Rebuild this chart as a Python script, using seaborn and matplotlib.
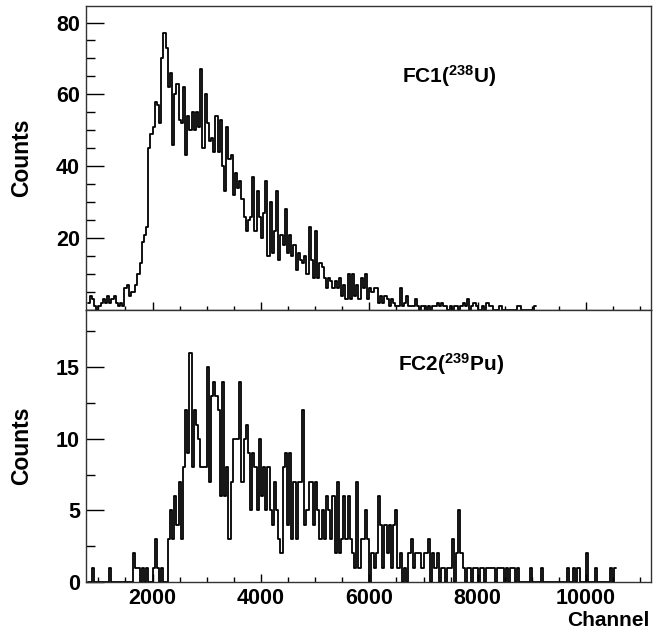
import numpy as np
import pandas as pd
import matplotlib
matplotlib.use("Agg")
import matplotlib.pyplot as plt
import seaborn as sns
from matplotlib.ticker import MultipleLocator, FixedLocator

# Histogram binning (channels)
BIN_START = 800
BIN_WIDTH = 40

# FC1 (238U) counts per bin
FC1_COUNTS = [
    2, 4, 3, 1, 0, 1, 2, 3, 2, 4, 2, 3, 4, 2, 1, 2, 1,
    6, 7, 4, 5, 5, 7, 10, 13, 19, 21, 23,
    45, 49, 51, 58, 57, 52, 70, 77, 73, 62, 66,
    46, 60, 63, 53, 52, 62, 43, 54, 50, 55, 50, 55, 51, 67, 45, 60, 52, 47, 48, 44,
    54, 44, 53, 40, 33, 51, 42,
    43, 32, 38, 34, 36, 31, 26, 22, 25, 26, 37, 22, 33, 26, 20, 27, 36, 15, 30, 16,
    22, 33, 14, 21, 18, 28, 16, 21, 15, 18, 11, 16, 14, 13, 15, 10, 23, 14, 9, 22,
    9, 13, 12, 9,
    6, 9, 8, 6, 8, 6, 9, 4, 7, 3, 10, 3, 10, 4, 7, 3, 9, 6, 10, 3, 6, 5, 6, 6,
    2, 4, 2, 4, 3, 1, 3, 2, 1, 1, 6, 1, 2, 4, 1, 1, 1, 3, 1, 0, 1, 1, 0, 1, 0,
    1, 1, 2, 1, 2, 1, 1, 0, 1, 0, 1, 1, 0,
    1, 2, 1, 3, 0, 1, 2, 1, 0, 0, 1, 0, 2, 1, 1, 0, 0, 0, 1,
    0, 0, 0, 0, 0, 0, 0, 1, 1, 0, 0, 0, 0, 0, 0, 1,
]

# FC2 (239Pu) counts per bin
FC2_COUNTS = [
    0, 0, 1, 0, 0, 0, 0, 0, 0, 0, 1, 0, 0, 0, 0, 0, 0, 0, 0, 0, 0, 2, 1, 1,
    0, 1, 0, 1, 0, 0, 1, 3, 1, 0, 1, 0, 0,
    3, 5, 3, 6, 4, 7, 3, 8, 12, 9, 16, 8, 12, 11, 10, 8, 8, 8, 15, 7, 13, 14, 13,
    12, 6, 14, 6, 8, 3, 7, 10,
    10, 10, 14, 7, 10, 11, 9, 5, 9, 8, 5, 10, 6, 8, 5, 8, 5, 4, 7, 5, 3, 2, 8, 9,
    4, 9, 3, 7, 3, 7, 7, 12, 4, 5, 7, 7, 4, 7, 5, 3, 5, 3, 6, 5, 3, 6, 2,
    7, 2, 3, 6, 3, 6, 3, 2, 1, 7, 1, 3, 3, 5, 3, 0, 2, 1, 2, 6, 4, 1, 4, 2, 4, 1,
    4, 5, 1, 2, 0, 1, 0, 2, 3, 1, 2, 2, 2, 1, 2, 2, 3, 0, 2, 1, 2, 0, 1, 1, 0, 1,
    1, 3, 0, 2, 5,
    2, 1, 0, 1, 1, 0, 1, 1, 0, 1, 1, 0, 1, 1, 1, 1, 0, 1, 1, 1, 0, 1, 0, 1, 1, 0,
    1, 0, 0, 0, 0, 0, 1, 0, 0, 0, 0, 1, 0, 0, 0, 0, 0, 0, 0, 0, 0, 0, 0, 1, 0, 0,
    1, 0, 1, 0, 0, 0, 2, 0, 0, 0, 1, 0, 0, 0, 0, 0, 0, 1, 0, 1,
]

PANEL_LABELS = ["FC1($^{238}$U)", "FC2($^{239}$Pu)"]
X_TICKS = [2000, 4000, 6000, 8000, 10000]
FC1_YTICKS = [20, 40, 60, 80]
FC2_YTICKS = [0, 5, 10, 15]


def draw_hist(ax, counts):
    n = len(counts)
    lo = BIN_START
    hi = BIN_START + BIN_WIDTH * n
    df = pd.DataFrame({
        "channel": lo + BIN_WIDTH * (np.arange(n) + 0.5),
        "counts": counts,
    })
    sns.histplot(data=df, x="channel", weights="counts", binwidth=BIN_WIDTH,
                 binrange=(lo, hi), element="step", fill=False,
                 color="black", linewidth=1.3, ax=ax)


def main():
    sns.set_style("ticks")
    plt.rcParams["font.family"] = ["Liberation Sans", "DejaVu Sans"]
    plt.rcParams["font.weight"] = "bold"
    plt.rcParams["text.color"] = "black"
    plt.rcParams["axes.labelcolor"] = "black"
    plt.rcParams["xtick.color"] = "black"
    plt.rcParams["ytick.color"] = "black"
    plt.rcParams["mathtext.fontset"] = "custom"
    plt.rcParams["mathtext.rm"] = "Liberation Sans:bold"
    plt.rcParams["mathtext.it"] = "Liberation Sans:bold"
    plt.rcParams["mathtext.bf"] = "Liberation Sans:bold"

    fig = plt.figure(figsize=(6.61, 6.32), dpi=100)
    left, width = 0.130, 0.855
    ax1 = fig.add_axes([left, 0.5095, width, 0.481])
    ax2 = fig.add_axes([left, 0.0791, width, 0.4304], sharex=ax1)

    draw_hist(ax1, FC1_COUNTS)
    draw_hist(ax2, FC2_COUNTS)

    for ax in (ax1, ax2):
        ax.set_xlim(770, 11200)
        for sp in ax.spines.values():
            sp.set_visible(True)
            sp.set_color("#333333")
            sp.set_linewidth(1.0)
        ax.xaxis.set_major_locator(FixedLocator(X_TICKS))
        ax.xaxis.set_minor_locator(MultipleLocator(500))
        ax.tick_params(axis="y", which="major", direction="in", length=13,
                       width=1, labelsize=15.5, pad=4.2)
        ax.tick_params(axis="y", which="minor", direction="in", length=6.5,
                       width=1)
        ax.set_ylabel("Counts", fontsize=16.5, fontweight="bold")
        ax.yaxis.set_label_coords(-0.094, 0.5)
        ax.set_xlabel("")

    # top panel
    ax1.set_ylim(0, 84.6)
    ax1.yaxis.set_major_locator(FixedLocator(FC1_YTICKS))
    ax1.yaxis.set_minor_locator(MultipleLocator(5))
    ax1.tick_params(axis="x", which="major", direction="inout", length=11,
                    width=1, labelbottom=False)
    ax1.tick_params(axis="x", which="minor", direction="inout", length=6,
                    width=1)
    ax1.text(0.559, 0.746, PANEL_LABELS[0], transform=ax1.transAxes,
             ha="left", va="baseline", fontsize=15, fontweight="bold")

    # bottom panel
    ax2.set_ylim(0, 19.0)
    ax2.yaxis.set_major_locator(FixedLocator(FC2_YTICKS))
    ax2.yaxis.set_minor_locator(MultipleLocator(2.5))
    ax2.tick_params(axis="x", which="major", direction="in", length=6,
                    width=1, labelsize=15.5, pad=4.5)
    ax2.tick_params(axis="x", which="minor", direction="in", length=3.5,
                    width=1)
    ax2.text(0.552, 0.777, PANEL_LABELS[1], transform=ax2.transAxes,
             ha="left", va="baseline", fontsize=15, fontweight="bold")
    ax2.set_xlabel("Channel", fontsize=15, fontweight="bold", loc="right")
    ax2.xaxis.set_label_coords(0.997, -0.108)

    fig.savefig("out.png", dpi=100)


if __name__ == "__main__":
    main()
